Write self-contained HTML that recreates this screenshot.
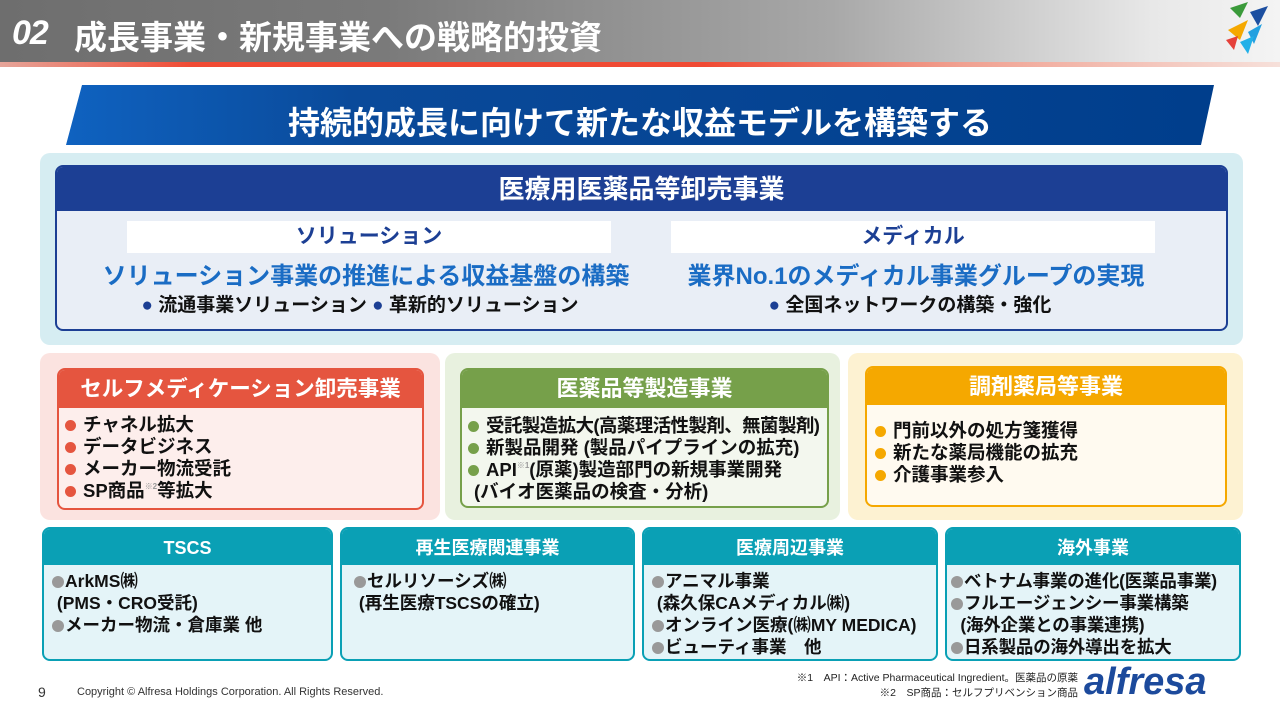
<!DOCTYPE html>
<html><head><meta charset="utf-8"><style>
*{margin:0;padding:0;box-sizing:border-box}
body{width:1280px;height:720px;position:relative;background:#fff;overflow:hidden;font-family:"Liberation Sans","Noto Sans CJK JP",sans-serif;font-weight:bold}
.a{position:absolute}
.hdr{left:0;top:0;width:1280px;height:63px;background:linear-gradient(90deg,#6e6e6e 0%,#7a7a7a 30%,#a8a8a8 65%,#e8e8e8 90%,#f4f4f4 100%)}
.red{left:0;top:62px;width:1280px;height:5px;background:linear-gradient(90deg,#e6a59a 0%,#f04a33 15%,#f04a33 55%,#f0a090 75%,#f6e0da 100%)}
.panel{border-radius:10px}
.box{border-radius:8px;overflow:hidden;background:#fff}
.bh{color:#fff;text-align:center}
ul{list-style:none}
.li{position:relative;padding-left:20px;font-size:18.5px;line-height:22px;color:#111;white-space:nowrap}
.li:before{content:"";position:absolute;left:2px;top:6px;width:11px;height:11px;border-radius:50%;background:var(--c)}
.t{font-size:17.5px;line-height:22px;color:#111;white-space:nowrap}
.t .d{display:inline-block;width:12px;height:12px;border-radius:50%;background:#999;margin-right:1px;vertical-align:-1px}
sup{font-size:8px;color:#999;vertical-align:0;position:relative;top:-8px;line-height:0}
</style></head><body>
<div class="a hdr"></div>
<div class="a red"></div>
<div class="a" style="left:12px;top:14px;color:#fff;font-size:34px;font-style:italic;letter-spacing:-1px">02</div>
<div class="a" style="left:74px;top:11px;color:#fff;font-size:33px">成長事業・新規事業への戦略的投資</div>
<svg class="a" style="left:1190px;top:0" width="90" height="62"><polygon points="40,8 58,2 50,18" fill="#3a9a3a"/><polygon points="60,12 78,6 68,26" fill="#1c4fa0"/><polygon points="38,30 58,20 50,40" fill="#f5a800"/><polygon points="58,32 72,24 64,44" fill="#22a0e0"/><polygon points="50,42 64,36 58,54" fill="#22b0e8"/><polygon points="36,40 48,36 44,50" fill="#e5403a"/></svg>
<svg class="a" style="left:0;top:0" width="1280" height="150"><defs><linearGradient id="g" x1="0" x2="1"><stop offset="0" stop-color="#0f62c0"/><stop offset=".25" stop-color="#0a4a9a"/><stop offset="1" stop-color="#003e8c"/></linearGradient></defs><polygon points="82,85 1214,85 1201,145 66,145" fill="url(#g)"/></svg>
<div class="a" style="left:0;width:1280px;top:98px;text-align:center;color:#fff;font-size:32px">持続的成長に向けて新たな収益モデルを構築する</div>

<div class="a panel" style="left:40px;top:153px;width:1203px;height:192px;background:#d6edf2"></div>
<div class="a box" style="left:55px;top:165px;width:1173px;height:166px;border:2px solid #1c3f94;background:#e9eef6">
<div class="bh" style="background:#1c3f94;height:44px;line-height:44px;font-size:26px">医療用医薬品等卸売事業</div></div>
<div class="a" style="left:127px;top:221px;width:484px;height:32px;background:#fff;color:#1c3f94;text-align:center;line-height:32px;font-size:21px">ソリューション</div>
<div class="a" style="left:671px;top:221px;width:484px;height:32px;background:#fff;color:#1c3f94;text-align:center;line-height:32px;font-size:21px">メディカル</div>
<div class="a" style="left:60px;width:612px;top:256px;text-align:center;color:#1a6cc4;font-size:24px">ソリューション事業の推進による収益基盤の構築</div>
<div class="a" style="left:610px;width:612px;top:256px;text-align:center;color:#1a6cc4;font-size:24px">業界No.1のメディカル事業グループの実現</div>
<div class="a" style="left:30px;width:660px;top:290px;text-align:center;color:#111;font-size:19px"><span style="color:#1c3f94">●</span> 流通事業ソリューション <span style="color:#1c3f94">●</span> 革新的ソリューション</div>
<div class="a" style="left:604px;width:612px;top:290px;text-align:center;color:#111;font-size:19px"><span style="color:#1c3f94">●</span> 全国ネットワークの構築・強化</div>

<div class="a panel" style="left:40px;top:353px;width:400px;height:167px;background:#fbe3e0"></div>
<div class="a panel" style="left:445px;top:353px;width:395px;height:167px;background:#e8f1df"></div>
<div class="a panel" style="left:848px;top:353px;width:395px;height:167px;background:#fdf2d2"></div>

<div class="a box" style="left:57px;top:368px;width:367px;height:142px;border:2px solid #e5553f;background:#fdeeec">
<div class="bh" style="background:#e5553f;height:38px;line-height:38px;font-size:21.5px">セルフメディケーション卸売事業</div>
<ul style="padding:6px 0 0 4px;--c:#e5553f"><li class="li">チャネル拡大</li><li class="li">データビジネス</li><li class="li">メーカー物流受託</li><li class="li">SP商品<sup>※2</sup>等拡大</li></ul></div>

<div class="a box" style="left:460px;top:368px;width:369px;height:140px;border:2px solid #76a04a;background:#f3f7ee">
<div class="bh" style="background:#76a04a;height:38px;line-height:38px;font-size:22px">医薬品等製造事業</div>
<ul style="padding:7px 0 0 4px;--c:#76a04a"><li class="li" style="letter-spacing:-.6px">受託製造拡大(高薬理活性製剤、無菌製剤)</li><li class="li">新製品開発 (製品パイプラインの拡充)</li><li class="li">API<sup>※1</sup>(原薬)製造部門の新規事業開発</li><li class="t" style="font-size:18.5px;padding-left:8px">(バイオ医薬品の検査・分析)</li></ul></div>

<div class="a box" style="left:865px;top:366px;width:362px;height:141px;border:2px solid #f5a800;background:#fffaf0">
<div class="bh" style="background:#f5a800;height:37px;line-height:37px;font-size:22px">調剤薬局等事業</div>
<ul style="padding:15px 0 0 6px;--c:#f5a800"><li class="li">門前以外の処方箋獲得</li><li class="li">新たな薬局機能の拡充</li><li class="li">介護事業参入</li></ul></div>

<div class="a box" style="left:42px;top:527px;width:291px;height:134px;border:2px solid #0aa0b5;background:#e4f4f8"><div class="bh" style="background:#0aa0b5;height:36px;line-height:38px;font-size:18px">TSCS</div>
<div class="t" style="padding:5px 0 0 8px"><span class="d"></span>ArkMS㈱<br>&nbsp;(PMS・CRO受託)<br><span class="d"></span>メーカー物流・倉庫業 他</div></div>
<div class="a box" style="left:340px;top:527px;width:295px;height:134px;border:2px solid #0aa0b5;background:#e4f4f8"><div class="bh" style="background:#0aa0b5;height:36px;line-height:38px;font-size:18px">再生医療関連事業</div>
<div class="t" style="padding:5px 0 0 12px"><span class="d"></span>セルリソーシズ㈱<br>&nbsp;(再生医療TSCSの確立)</div></div>
<div class="a box" style="left:642px;top:527px;width:296px;height:134px;border:2px solid #0aa0b5;background:#e4f4f8"><div class="bh" style="background:#0aa0b5;height:36px;line-height:38px;font-size:18px">医療周辺事業</div>
<div class="t" style="padding:5px 0 0 8px"><span class="d"></span>アニマル事業<br>&nbsp;(森久保CAメディカル㈱)<br><span class="d"></span>オンライン医療(㈱MY MEDICA)<br><span class="d"></span>ビューティ事業　他</div></div>
<div class="a box" style="left:945px;top:527px;width:296px;height:134px;border:2px solid #0aa0b5;background:#e4f4f8"><div class="bh" style="background:#0aa0b5;height:36px;line-height:38px;font-size:18px">海外事業</div>
<div class="t" style="padding:5px 0 0 4px;letter-spacing:-.2px"><span class="d"></span>ベトナム事業の進化(医薬品事業)<br><span class="d"></span>フルエージェンシー事業構築<br>&nbsp;&nbsp;(海外企業との事業連携)<br><span class="d"></span>日系製品の海外導出を拡大</div></div>

<div class="a" style="left:38px;top:684px;font-size:14px;font-weight:normal;color:#333">9</div>
<div class="a" style="left:77px;top:686px;font-size:11px;font-weight:normal;color:#333">Copyright © Alfresa Holdings Corporation. All Rights Reserved.</div>
<div class="a" style="right:202px;top:671px;font-size:10.5px;font-weight:normal;color:#222;text-align:right;line-height:15px">※1　API：Active Pharmaceutical Ingredient。医薬品の原薬<br>※2　SP商品：セルフプリベンション商品</div>
<div class="a" style="left:1084px;top:661px;font-size:38px;font-style:italic;color:#1c4a9c;font-family:'Liberation Sans',sans-serif">alfresa</div>
</body></html>
